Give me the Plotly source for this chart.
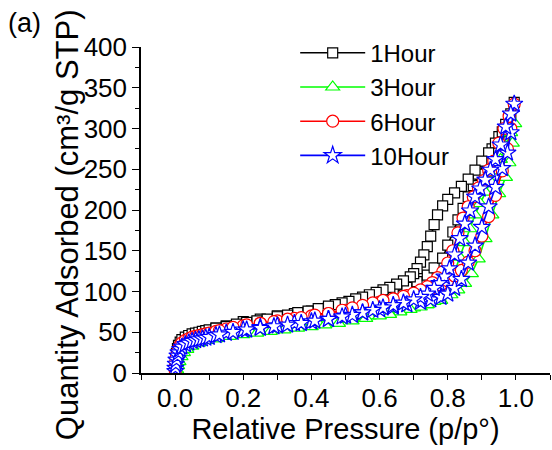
import plotly.graph_objects as go

# ---------------- data ----------------
series_names = ["1Hour", "3Hour", "6Hour", "10Hour"]

# 1Hour
ads_p_1 = [0.0005, 0.001, 0.002, 0.004, 0.007, 0.01, 0.015, 0.02, 0.03, 0.04, 0.05, 0.06, 0.07, 0.08, 0.09,
           0.10, 0.12, 0.15, 0.20, 0.25, 0.30, 0.35, 0.40, 0.45, 0.50, 0.55, 0.60, 0.64, 0.68, 0.71,
           0.74, 0.76, 0.785, 0.80, 0.815, 0.83, 0.845, 0.86, 0.875, 0.89, 0.91, 0.93, 0.95, 0.97, 0.985, 0.995]
ads_q_1 = [4, 10, 17, 24, 30, 34, 38, 41, 44, 46, 48, 49, 50, 51, 52,
           53, 55, 58, 63, 66, 70, 73, 76, 80, 84, 89, 94, 99, 105, 112,
           120, 129, 141, 157, 173, 188, 202, 216, 230, 244, 259, 275, 290, 305, 318, 332]
des_p_1 = [0.98, 0.96, 0.94, 0.92, 0.90, 0.88, 0.86, 0.84, 0.82, 0.80, 0.785, 0.77, 0.76, 0.75, 0.74,
           0.73, 0.72, 0.71, 0.70, 0.69, 0.67, 0.65, 0.63, 0.61, 0.59, 0.57, 0.55, 0.53, 0.51, 0.49,
           0.47, 0.45, 0.42, 0.39, 0.36, 0.33, 0.30, 0.27, 0.24, 0.21, 0.18, 0.15, 0.12]
des_q_1 = [314, 296, 282, 270, 260, 249, 238, 229, 221, 213, 205, 194, 182, 168, 155,
           145, 136, 128, 122, 118, 113, 109, 105, 102, 99, 96, 93, 91, 88, 86,
           84, 82, 79, 76, 74, 71, 69, 66, 64, 62, 60, 57, 55]

# 3Hour
ads_p_3 = [0.003, 0.005, 0.008, 0.012, 0.018, 0.025, 0.035, 0.05, 0.07, 0.09, 0.11, 0.14, 0.18, 0.22, 0.27,
           0.32, 0.37, 0.42, 0.47, 0.52, 0.57, 0.62, 0.66, 0.70, 0.74, 0.78, 0.81, 0.83, 0.85, 0.87,
           0.89, 0.91, 0.93, 0.95, 0.97, 0.98, 0.99, 0.997]
ads_q_3 = [1, 4, 9, 14, 20, 25, 29, 33, 37, 40, 42, 45, 48, 51, 54,
           56, 59, 61, 64, 67, 70, 74, 77, 80, 84, 89, 96, 102, 110, 122,
           140, 165, 194, 220, 240, 258, 282, 306]
des_p_3 = [0.985, 0.97, 0.955, 0.94, 0.925, 0.91, 0.895, 0.88, 0.865, 0.85, 0.835, 0.82, 0.805, 0.79, 0.775,
           0.76, 0.74, 0.72, 0.69, 0.66, 0.63, 0.60, 0.56, 0.52, 0.48, 0.44, 0.40, 0.36, 0.32, 0.28,
           0.24, 0.20, 0.16, 0.12]
des_q_3 = [295, 278, 262, 248, 235, 222, 208, 194, 177, 160, 142, 124, 110, 100, 93,
           88, 84, 81, 78, 75, 72, 70, 67, 64, 61, 59, 57, 55, 53, 51,
           49, 47, 45, 42]

# 6Hour
ads_p_6 = [0.0005, 0.001, 0.002, 0.004, 0.007, 0.01, 0.015, 0.02, 0.03, 0.04, 0.05, 0.06, 0.07, 0.08, 0.09,
           0.10, 0.12, 0.15, 0.20, 0.25, 0.30, 0.35, 0.40, 0.45, 0.50, 0.55, 0.60, 0.64, 0.68, 0.72,
           0.75, 0.78, 0.80, 0.82, 0.84, 0.86, 0.88, 0.90, 0.92, 0.94, 0.96, 0.975, 0.985, 0.995]
ads_q_6 = [3, 8, 14, 20, 26, 30, 34, 37, 40, 42, 44, 45, 46, 47, 48,
           49, 51, 54, 58, 61, 64, 67, 70, 73, 77, 82, 87, 91, 95, 99,
           103, 108, 113, 119, 126, 136, 150, 168, 192, 218, 248, 275, 300, 330]
des_p_6 = [0.98, 0.965, 0.95, 0.935, 0.92, 0.905, 0.89, 0.875, 0.86, 0.845, 0.83, 0.815, 0.80, 0.785, 0.77,
           0.755, 0.74, 0.72, 0.70, 0.67, 0.64, 0.61, 0.58, 0.55, 0.52, 0.49, 0.45, 0.41, 0.37, 0.33,
           0.29, 0.25, 0.21, 0.17, 0.13]
des_q_6 = [315, 300, 282, 260, 249, 236, 227, 216, 204, 190, 172, 150, 135, 124, 117,
           111, 106, 102, 98, 94, 91, 89, 86, 83, 80, 77, 73, 71, 68, 66,
           63, 61, 59, 56, 52]

# 10Hour
ads_p_10 = [0.0005, 0.001, 0.002, 0.004, 0.007, 0.01, 0.015, 0.02, 0.03, 0.04, 0.05, 0.06, 0.07, 0.08, 0.09,
            0.10, 0.12, 0.15, 0.20, 0.25, 0.30, 0.35, 0.40, 0.45, 0.50, 0.55, 0.60, 0.64, 0.68, 0.72,
            0.75, 0.78, 0.80, 0.82, 0.84, 0.86, 0.88, 0.90, 0.92, 0.94, 0.96, 0.975, 0.985, 0.995]
ads_q_10 = [2, 6, 11, 16, 21, 25, 29, 32, 35, 37, 39, 40, 41, 42, 43,
            44, 46, 49, 53, 56, 58, 61, 63, 66, 70, 74, 78, 81, 84, 87,
            90, 93, 97, 104, 115, 135, 156, 179, 204, 228, 251, 270, 295, 330]
des_p_10 = [0.985, 0.97, 0.955, 0.94, 0.925, 0.91, 0.895, 0.88, 0.865, 0.85, 0.835, 0.82, 0.805, 0.79, 0.775,
            0.76, 0.74, 0.72, 0.70, 0.67, 0.64, 0.61, 0.58, 0.55, 0.52, 0.49, 0.45, 0.41, 0.37, 0.33,
            0.29, 0.25, 0.21, 0.17, 0.13]
des_q_10 = [318, 302, 280, 262, 249, 237, 226, 216, 199, 183, 165, 145, 128, 118, 110,
            104, 97, 93, 90, 86, 83, 80, 77, 74, 71, 69, 66, 64, 61, 59,
            57, 55, 53, 50, 47]

x_tick_vals = [0.0, 0.2, 0.4, 0.6, 0.8, 1.0]
x_tick_text = ["0.0", "0.2", "0.4", "0.6", "0.8", "1.0"]
y_tick_vals = [0, 50, 100, 150, 200, 250, 300, 350, 400]
y_tick_text = ["0", "50", "100", "150", "200", "250", "300", "350", "400"]

# ---------------- styles ----------------
colors = ["#000000", "#00FF00", "#FF0000", "#0000FF"]
symbols = ["square", "triangle-up", "circle", "star"]
sizes = [10, 12, 12, 13]

data_p = [ads_p_1 + des_p_1, ads_p_3 + des_p_3, ads_p_6 + des_p_6, ads_p_10 + des_p_10]
data_q = [ads_q_1 + des_q_1, ads_q_3 + des_q_3, ads_q_6 + des_q_6, ads_q_10 + des_q_10]

FONT = "Liberation Sans, Arial, sans-serif"

fig = go.Figure()
for name, p, q, c, s, sz in zip(series_names, data_p, data_q, colors, symbols, sizes):
    fig.add_trace(go.Scatter(
        x=p, y=q, name=name, mode="lines+markers",
        line=dict(color=c, width=1.6),
        marker=dict(symbol=s, size=sz, color="white", line=dict(color=c, width=1.2)),
    ))

fig.update_layout(
    width=552, height=450,
    margin=dict(l=141, r=2, t=47, b=77, autoexpand=False),
    paper_bgcolor="white", plot_bgcolor="white",
    font=dict(family=FONT, color="black", size=26),
    showlegend=True,
    legend=dict(
        x=0.377, y=1.05, xanchor="left", yanchor="top",
        bgcolor="rgba(0,0,0,0)", borderwidth=0,
        font=dict(family=FONT, size=24, color="black"),
        tracegroupgap=0, itemwidth=65,
    ),
    xaxis=dict(
        range=[-0.1, 1.1], showgrid=False, zeroline=False,
        showline=True, linecolor="black", linewidth=1.5,
        ticks="outside", ticklen=5, tickwidth=1.2, tickcolor="black",
        tickvals=x_tick_vals, ticktext=x_tick_text,
        tickfont=dict(family=FONT, size=26),
        ticklabelstandoff=-4,
        minor=dict(dtick=0.1, tick0=0, ticks="outside", ticklen=5, tickwidth=1.2, tickcolor="black", showgrid=False),
        title=dict(text="Relative Pressure (p/p°)", font=dict(family=FONT, size=29), standoff=2),
        automargin=False,
    ),
    yaxis=dict(
        range=[0, 400], showgrid=False, zeroline=False,
        showline=True, linecolor="black", linewidth=1.5,
        ticks="outside", ticklen=7, tickwidth=1.2, tickcolor="black",
        tickvals=y_tick_vals, ticktext=y_tick_text,
        tickfont=dict(family=FONT, size=26),
        minor=dict(dtick=25, tick0=0, ticks="outside", ticklen=4, tickwidth=1.2, tickcolor="black", showgrid=False),
        automargin=False,
    ),
    annotations=[
        dict(text="Quantity Adsorbed (cm³/g STP)", textangle=-90,
             xref="paper", yref="paper", x=-0.178, y=0.454,
             xanchor="center", yanchor="middle", showarrow=False,
             font=dict(family=FONT, size=31, color="black")),
        dict(text="(a)", xref="paper", yref="paper",
             x=-0.33, y=1.125, xanchor="left", yanchor="top", showarrow=False,
             font=dict(family=FONT, size=27, color="black")),
    ],
)

fig.write_html("out.html")
